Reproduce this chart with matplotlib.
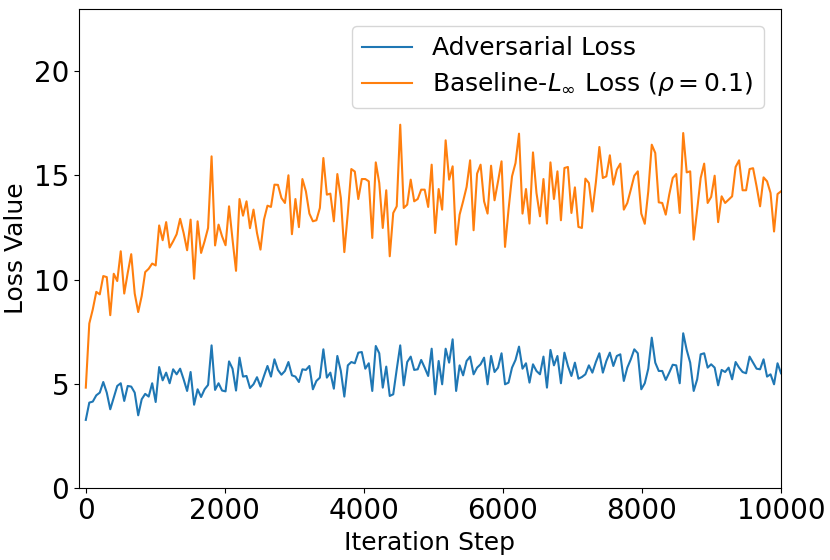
import numpy as np
import matplotlib
matplotlib.use('Agg')
import matplotlib.pyplot as plt

# Значения потерь (200 точек от 0 до 10000)
adversarial_loss = [
    3.26, 4.09, 4.14, 4.44, 4.57, 5.08, 4.57, 3.77, 4.33, 4.89,
    5.02, 4.17, 4.89, 4.86, 4.57, 3.48, 4.25, 4.51, 4.38, 5.02,
    4.12, 5.80, 5.16, 5.53, 5.02, 5.69, 5.45, 5.72, 5.21, 4.65,
    5.56, 3.99, 4.73, 4.36, 4.73, 4.94, 6.84, 4.70, 5.02, 4.67,
    4.63, 6.07, 5.72, 4.67, 6.25, 5.34, 5.37, 4.79, 4.97, 5.31,
    4.86, 5.37, 5.85, 5.34, 6.17, 5.66, 5.43, 5.61, 6.04, 5.40,
    5.34, 5.08, 5.69, 5.66, 5.85, 4.73, 5.13, 5.29, 6.65, 5.29,
    5.53, 4.76, 6.33, 5.61, 4.38, 5.88, 6.04, 5.98, 6.49, 6.52,
    5.72, 5.98, 4.65, 6.81, 6.46, 4.81, 5.82, 4.41, 4.49, 5.69,
    6.84, 4.92, 6.04, 6.30, 5.66, 5.69, 6.14, 5.77, 5.37, 6.68,
    4.49, 6.09, 4.97, 6.68, 6.01, 7.13, 4.65, 5.88, 5.40, 6.09,
    6.30, 5.45, 5.77, 5.93, 6.25, 4.97, 6.33, 5.56, 5.77, 6.46,
    4.97, 5.05, 5.77, 6.14, 6.78, 5.72, 5.98, 5.05, 5.93, 5.61,
    5.45, 6.30, 4.81, 6.62, 5.88, 6.33, 5.02, 6.49, 5.85, 5.37,
    6.01, 5.24, 5.32, 5.45, 5.88, 5.53, 6.04, 6.46, 5.53, 6.09,
    6.49, 5.85, 6.33, 6.41, 5.13, 5.77, 6.17, 6.65, 6.46, 4.73,
    5.02, 5.72, 7.21, 6.01, 5.61, 5.61, 5.18, 5.53, 5.91, 5.88,
    5.02, 7.42, 6.62, 6.01, 4.65, 5.21, 6.41, 6.46, 5.77, 5.93,
    5.77, 4.92, 5.66, 5.56, 5.77, 5.21, 6.04, 5.77, 5.56, 5.50,
    6.30, 6.01, 5.72, 5.69, 6.17, 5.34, 5.45, 4.97, 5.98, 5.50,
]

baseline_loss = [
    4.81, 7.89, 8.57, 9.41, 9.29, 10.17, 10.12, 8.29, 10.28, 9.93,
    11.36, 9.33, 10.32, 11.22, 9.33, 8.44, 9.21, 10.36, 10.52, 10.77,
    10.68, 12.60, 11.89, 12.76, 11.54, 11.84, 12.18, 12.92, 12.24, 11.41,
    12.88, 10.04, 12.80, 11.28, 11.84, 12.48, 15.92, 11.64, 12.64, 12.08,
    11.65, 13.52, 11.92, 10.42, 13.87, 13.07, 13.76, 12.47, 13.36, 12.24,
    11.44, 12.88, 13.55, 13.49, 14.56, 14.55, 13.92, 13.68, 15.01, 12.18,
    13.87, 12.52, 14.83, 14.24, 13.17, 12.80, 12.85, 13.44, 15.84, 14.08,
    14.13, 12.80, 15.07, 13.92, 11.32, 13.20, 15.31, 15.19, 13.87, 14.83,
    14.83, 14.72, 12.00, 15.63, 14.64, 12.48, 14.29, 11.12, 13.20, 13.52,
    17.44, 13.44, 13.60, 14.80, 13.76, 13.87, 14.32, 14.32, 13.49, 15.52,
    12.24, 14.35, 13.36, 16.69, 14.80, 15.44, 11.68, 13.12, 13.76, 14.45,
    15.73, 12.37, 15.09, 15.52, 13.76, 13.17, 15.47, 13.81, 14.72, 15.68,
    11.57, 13.36, 14.96, 15.60, 17.01, 13.17, 14.35, 12.69, 16.11, 14.16,
    13.04, 14.83, 12.69, 15.63, 13.87, 15.20, 12.85, 15.36, 15.41, 13.20,
    14.43, 12.53, 12.48, 14.85, 14.64, 13.27, 14.67, 16.37, 14.88, 14.96,
    15.97, 14.56, 15.28, 15.57, 13.36, 13.68, 14.32, 14.99, 15.20, 13.17,
    12.68, 14.24, 16.48, 16.08, 13.71, 13.68, 13.12, 14.08, 14.88, 15.07,
    13.20, 17.04, 15.15, 15.20, 11.92, 13.36, 14.88, 15.57, 13.68, 13.97,
    14.99, 12.76, 14.00, 13.68, 13.84, 14.00, 15.41, 15.73, 14.29, 14.29,
    15.31, 15.35, 14.48, 13.52, 14.91, 14.72, 14.16, 12.31, 14.11, 14.24,
]

steps = np.linspace(0, 10000, len(adversarial_loss))

plt.figure(figsize=(8.3, 5.6), dpi=100)
plt.plot(steps, adversarial_loss, color='#1f77b4', linewidth=1.5, label='Adversarial Loss')
plt.plot(steps, baseline_loss, color='#ff7f0e', linewidth=1.5,
         label=r'Baseline-$L_\infty$ Loss ($\rho=0.1$)')

plt.xlim(-100, 10000)
plt.ylim(0, 23)
plt.xticks([0, 2000, 4000, 6000, 8000, 10000], fontsize=20)
plt.yticks([0, 5, 10, 15, 20], fontsize=20)
plt.xlabel('Iteration Step', fontsize=18)
plt.ylabel('Loss Value', fontsize=18)
plt.legend(loc='upper right', fontsize=18, borderaxespad=0.7, labelspacing=0.4)

plt.subplots_adjust(left=0.095, right=0.941, top=0.984, bottom=0.129)
plt.savefig('out.png', dpi=100)
